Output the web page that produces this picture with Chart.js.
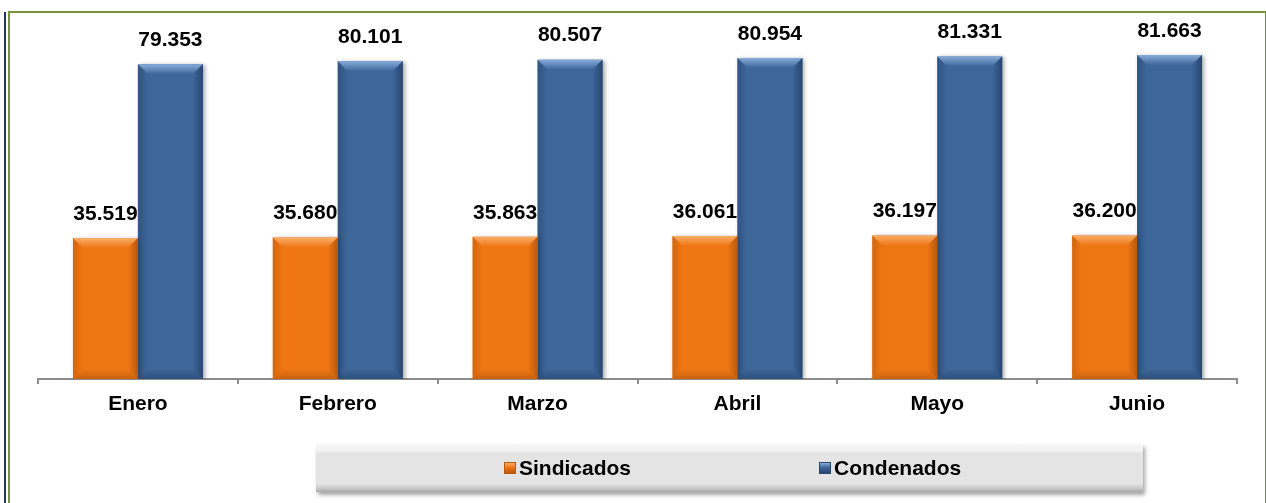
<!DOCTYPE html>
<html>
<head>
<meta charset="utf-8">
<script src="https://cdn.jsdelivr.net/npm/chart.js@4.4.1/dist/chart.umd.min.js"></script>
<style>
  html, body { margin: 0; padding: 0; background: #fff; }
  #wrap { position: relative; width: 1266px; height: 503px; overflow: hidden; background: #fff; }
  #c { position: absolute; left: 0; top: 0; }
  .frame-navy { position: absolute; left: 4px; top: 12px; width: 2px; height: 600px; background: #1F3864; }
  .frame-green { position: absolute; left: 8px; top: 11px; width: 1255px; height: 600px; border: 2px solid #77933C; box-sizing: content-box; }
  #legend { position: absolute; left: 316px; top: 444px; width: 827px; height: 48px;
    background: linear-gradient(to bottom, #f7f7f7 0px, #f2f2f2 7px, #e4e4e4 9px, #e4e4e4 40px, #c4c4c4 45px, #a8a8a8 48px);
    box-shadow: 2px 3px 4px rgba(0,0,0,0.35);
    font-family: "Liberation Sans", Arial, sans-serif; font-weight: bold; font-size: 21px; color: #000; }
  .li { position: absolute; top: 12px; height: 24px; line-height: 24px; white-space: nowrap; z-index: 1; }
  .sw { display: inline-block; width: 12px; height: 12px; vertical-align: middle; margin-right: 3px; margin-top: -3px; box-sizing: border-box; }
</style>
</head>
<body>
<div id="wrap">
  <canvas id="c" width="1266" height="503"></canvas>
  <div class="frame-navy"></div>
  <div class="frame-green"></div>
  <div id="legend"></div>
</div>
<script>
const categories = ["Enero", "Febrero", "Marzo", "Abril", "Mayo", "Junio"];
const sindicados = [35.519, 35.680, 35.863, 36.061, 36.197, 36.200];
const condenados = [79.353, 80.101, 80.507, 80.954, 81.331, 81.663];
const seriesNames = ["Sindicados", "Condenados"];
const seriesColors = ["#F07614", "#3D6699"];
const seriesLight = ["#F8AE6A", "#86ACDB"];
const seriesDark = ["#B85A0C", "#274670"];
const legendX = [188, 503]; // offsets inside legend box

function fmt(v) { return v.toFixed(3); }

const bevelPlugin = {
  id: 'bevel',
  afterDatasetsDraw(chart) {
    const ctx = chart.ctx;
    chart.data.datasets.forEach((ds, di) => {
      const meta = chart.getDatasetMeta(di);
      meta.data.forEach((bar) => {
        const w = bar.width;
        const l = bar.x - w / 2, r = bar.x + w / 2, t = bar.y, b = bar.base;
        const bv = 10;
        ctx.save();
        let g = ctx.createLinearGradient(0, t, 0, t + bv);
        g.addColorStop(0, seriesLight[di]);
        g.addColorStop(1, seriesColors[di]);
        ctx.fillStyle = g;
        ctx.beginPath();
        ctx.moveTo(l, t); ctx.lineTo(r, t); ctx.lineTo(r - bv, t + bv); ctx.lineTo(l + bv, t + bv); ctx.closePath();
        ctx.fill();
        g = ctx.createLinearGradient(r - bv, 0, r, 0);
        g.addColorStop(0, seriesColors[di]);
        g.addColorStop(1, seriesDark[di]);
        ctx.fillStyle = g;
        ctx.beginPath();
        ctx.moveTo(r, t); ctx.lineTo(r, b); ctx.lineTo(r - bv, b - bv); ctx.lineTo(r - bv, t + bv); ctx.closePath();
        ctx.fill();
        g = ctx.createLinearGradient(l, 0, l + bv, 0);
        g.addColorStop(0, seriesDark[di]);
        g.addColorStop(1, seriesColors[di]);
        ctx.globalAlpha = 0.55;
        ctx.fillStyle = g;
        ctx.beginPath();
        ctx.moveTo(l, t); ctx.lineTo(l + bv, t + bv); ctx.lineTo(l + bv, b - bv); ctx.lineTo(l, b); ctx.closePath();
        ctx.fill();
        g = ctx.createLinearGradient(0, b - bv, 0, b);
        g.addColorStop(0, seriesColors[di]);
        g.addColorStop(1, seriesDark[di]);
        ctx.globalAlpha = 0.7;
        ctx.fillStyle = g;
        ctx.beginPath();
        ctx.moveTo(l, b); ctx.lineTo(l + bv, b - bv); ctx.lineTo(r - bv, b - bv); ctx.lineTo(r, b); ctx.closePath();
        ctx.fill();
        ctx.restore();
      });
    });
  },
  afterDraw(chart) {
    const ctx = chart.ctx;
    ctx.save();
    ctx.font = 'bold 21px "Liberation Sans", Arial, sans-serif';
    ctx.fillStyle = '#000';
    ctx.textAlign = 'center';
    ctx.textBaseline = 'middle';
    chart.data.datasets.forEach((ds, di) => {
      const meta = chart.getDatasetMeta(di);
      meta.data.forEach((bar, i) => {
        ctx.fillText(fmt(ds.data[i]), bar.x, bar.y - 24);
      });
    });
    ctx.restore();
  }
};

const shadowPlugin = {
  id: 'barShadow',
  beforeDatasetsDraw(chart) {
    const ctx = chart.ctx;
    ctx.save();
    ctx.shadowColor = 'rgba(0,0,0,0.35)';
    ctx.shadowBlur = 4;
    ctx.shadowOffsetX = 2;
    ctx.shadowOffsetY = 1;
  },
  afterDatasetsDraw(chart) {
    chart.ctx.restore();
  }
};

new Chart(document.getElementById('c'), {
  type: 'bar',
  data: {
    labels: categories,
    datasets: [
      { label: seriesNames[0], data: sindicados, backgroundColor: seriesColors[0], borderWidth: 0 },
      { label: seriesNames[1], data: condenados, backgroundColor: seriesColors[1], borderWidth: 0 }
    ]
  },
  options: {
    responsive: false,
    animation: false,
    maintainAspectRatio: false,
    layout: { padding: { top: 22, left: 38, right: 29, bottom: 0 } },
    datasets: { bar: { categoryPercentage: 0.65, barPercentage: 1.0 } },
    plugins: { legend: { display: false }, tooltip: { enabled: false } },
    scales: {
      x: {
        grid: { display: true, drawOnChartArea: false, drawTicks: true, tickLength: 5, color: '#8C8C8C', lineWidth: 2, offset: true },
        border: { display: true, color: '#8C8C8C', width: 2 },
        ticks: { color: '#000', font: { family: '"Liberation Sans", Arial, sans-serif', size: 21, weight: 'bold' }, padding: 8, maxRotation: 0 },
        afterFit(scale) { scale.height = 503 - 379 - 0; }
      },
      y: {
        display: false,
        min: 0, max: 90
      }
    }
  },
  plugins: [shadowPlugin, bevelPlugin]
});

const legend = document.getElementById('legend');
seriesNames.forEach((name, i) => {
  const d = document.createElement('div');
  d.className = 'li';
  d.style.left = legendX[i] + 'px';
  const sw = document.createElement('span');
  sw.className = 'sw';
  sw.style.background = 'linear-gradient(to bottom, ' + seriesLight[i] + ', ' + seriesColors[i] + ' 45%, ' + seriesDark[i] + ')';
  sw.style.border = '1px solid ' + seriesDark[i];
  d.appendChild(sw);
  d.appendChild(document.createTextNode(name));
  legend.appendChild(d);
});
</script>
</body>
</html>
